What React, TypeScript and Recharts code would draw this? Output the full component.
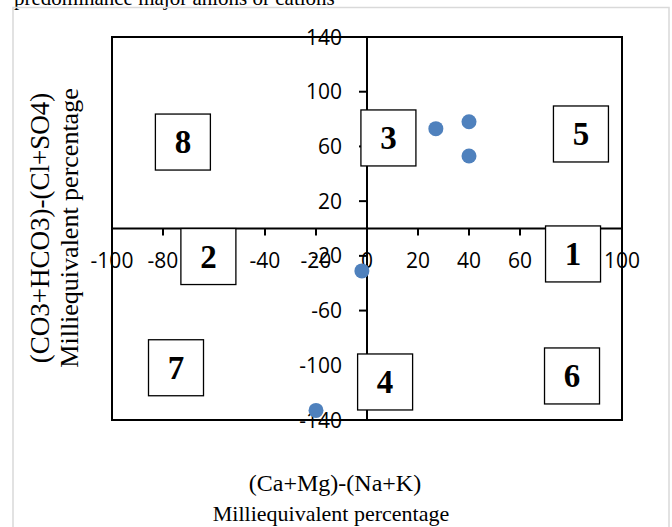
import {
  ReferenceArea,
  ReferenceDot,
  ReferenceLine,
  Scatter,
  ScatterChart,
  XAxis,
  YAxis,
} from "recharts";

// Sample points, milliequivalent percentage differences
const sampleX = [27, 40, 40, -2, -20];
const sampleY = [73, 78, 53, -31, -133];

// Numbered field boxes (Piper-style fields 1-8), placed in data units
const fieldNames = ["1", "2", "3", "4", "5", "6", "7", "8"];
const fieldX = [80.8, -62.2, 8.4, 7.1, 83.9, 80.4, -74.9, -72.2];
const fieldY = [-18.6, -20.5, 66.2, -112.2, 69.1, -107.8, -101.8, 63.2];

const xTicks = [-100, -80, -60, -40, -20, 0, 20, 40, 60, 80, 100];
const yTicks = [-140, -100, -60, -20, 20, 60, 100, 140];

const xTitle = ["(Ca+Mg)-(Na+K)", "Milliequivalent percentage"];
const yTitle = ["(CO3+HCO3)-(Cl+SO4)", "Milliequivalent percentage"];
const caption = "predominance major anions or cations";

const serif = "'Liberation Serif', 'Times New Roman', serif";
const sans = "'Open Sans', 'Liberation Sans', sans-serif";

const data = sampleX.map((x, i) => ({ x, y: sampleY[i] }));

function XTick(props: any) {
  const { cx, cy, value } = props;
  return (
    <g>
      <line x1={cx} y1={cy} x2={cx} y2={cy + 7} stroke="#000" strokeWidth={2} />
      <text x={cx} y={cy + 39} textAnchor="middle" fontFamily={sans} fontSize={21} fill="#000">
        {value}
      </text>
    </g>
  );
}

function YTick(props: any) {
  const { cx, cy, value } = props;
  return (
    <g>
      <line x1={cx - 8} y1={cy} x2={cx} y2={cy} stroke="#000" strokeWidth={2} />
      <text x={cx - 25} y={cy + 7.5} textAnchor="end" fontFamily={sans} fontSize={21} fill="#000">
        {value}
      </text>
    </g>
  );
}

function SampleDot(props: any) {
  const { cx, cy } = props;
  return <circle cx={cx} cy={cy} r={7.5} fill="#4F81BD" />;
}

function FieldBox(props: any) {
  const { cx, cy, name } = props;
  return (
    <g>
      <rect x={cx - 27.5} y={cy - 28} width={55} height={56} fill="#fff" stroke="#000" strokeWidth={1.3} />
      <text x={cx} y={cy + 11} textAnchor="middle" fontFamily={serif} fontWeight="bold" fontSize={33} fill="#000">
        {name}
      </text>
    </g>
  );
}

export default function App() {
  return (
    <div
      style={{
        position: "absolute",
        left: 0,
        top: 0,
        width: 672,
        height: 527,
        overflow: "hidden",
        background: "#fff",
      }}
    >
      <ScatterChart width={672} height={527} margin={{ top: 37, right: 50, bottom: 107, left: 112 }}>
        <XAxis type="number" dataKey="x" domain={[-100, 100]} ticks={xTicks} hide />
        <YAxis type="number" dataKey="y" domain={[-140, 140]} ticks={yTicks} hide />
        <ReferenceArea
          x1={-100}
          x2={100}
          y1={-140}
          y2={140}
          fill="none"
          fillOpacity={0}
          stroke="#000"
          strokeWidth={2}
          strokeOpacity={1}
          zIndex={100}
        />
        <ReferenceLine x={0} stroke="#000" strokeWidth={2} zIndex={200} />
        <ReferenceLine y={0} stroke="#000" strokeWidth={2} zIndex={200} />
        {xTicks.map((v) => (
          <ReferenceDot
            key={"xt" + v}
            x={v}
            y={0}
            ifOverflow="visible"
            zIndex={300}
            shape={(p: any) => <XTick {...p} value={v} />}
          />
        ))}
        {yTicks.map((v) => (
          <ReferenceDot
            key={"yt" + v}
            x={0}
            y={v}
            ifOverflow="visible"
            zIndex={300}
            shape={(p: any) => <YTick {...p} value={v} />}
          />
        ))}
        <Scatter data={data} isAnimationActive={false} shape={SampleDot} zIndex={400} />
        {fieldNames.map((n, i) => (
          <ReferenceDot
            key={"f" + n}
            x={fieldX[i]}
            y={fieldY[i]}
            ifOverflow="visible"
            zIndex={500}
            shape={(p: any) => <FieldBox {...p} name={n} />}
          />
        ))}
      </ScatterChart>
      <svg
        width={672}
        height={527}
        style={{ position: "absolute", left: 0, top: 0, pointerEvents: "none" }}
      >
        <text x={14} y={5} fontFamily={serif} fontSize={21} fill="#000">
          {caption}
        </text>
        <rect x={13} y={7.5} width={656} height={600} fill="none" stroke="#d9d9d9" strokeWidth={1.5} />
        <g fontFamily={serif} fill="#000" textAnchor="middle">
          <text transform="translate(49,228) rotate(-90)" fontSize={27}>{yTitle[0]}</text>
          <text transform="translate(78,228) rotate(-90)" fontSize={26}>{yTitle[1]}</text>
          <text x={335} y={491} fontSize={24}>{xTitle[0]}</text>
          <text x={331} y={521} fontSize={22}>{xTitle[1]}</text>
        </g>
      </svg>
    </div>
  );
}
